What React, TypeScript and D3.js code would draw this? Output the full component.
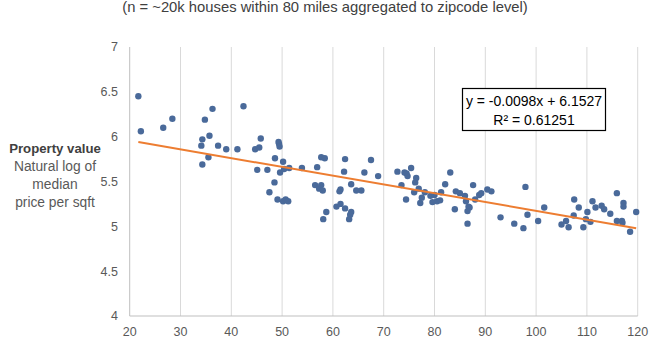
import React from "react";
import * as d3 from "d3";

// Distance (miles) vs natural log of median price per sqft
const distances = [
  21.7, 22.2, 26.6, 28.4, 34.8, 36.3, 34.3, 35.7, 34.1, 37.4, 39.0, 41.2, 35.5, 34.3, 42.4,
  45.8, 44.7, 45.5, 49.3, 49.4, 49.5, 48.6, 50.2, 45.1, 47.1, 49.6, 50.4, 51.4, 53.9, 48.5,
  47.5, 49.1, 50.2, 50.7, 51.2, 57.7, 58.4, 56.9, 56.5, 57.7, 57.3, 58.0, 58.7, 58.1, 62.4,
  62.2, 66.2, 63.6, 61.5, 61.3, 64.6, 65.6, 60.7, 61.5, 62.4, 63.6, 63.4, 63.2, 67.5, 68.9,
  72.7, 74.1, 74.5, 74.7, 75.4, 76.4, 76.2, 73.5, 76.9, 76.0, 78.1, 74.4, 77.5, 77.2, 79.2,
  80.0, 81.3, 79.6, 80.5, 81.1, 83.1, 82.1, 84.2, 85.0, 86.0, 87.6, 86.2, 86.7, 86.9, 86.5,
  84.0, 86.5, 88.0, 88.8, 89.2, 90.4, 91.2, 93.0, 97.9, 95.7, 97.5, 98.3, 100.4, 101.6, 105.0,
  105.9, 106.4, 107.5, 108.4, 107.4, 109.3, 110.1, 109.8, 110.7, 111.1, 111.7, 112.9, 113.4, 114.6, 115.9,
  117.2, 117.2, 115.9, 116.9, 117.0, 118.5, 119.7,
];
const logPrices = [
  6.45, 6.06, 6.10, 6.20, 6.19, 6.31, 5.97, 6.01, 5.90, 5.90, 5.86, 5.86, 5.77, 5.69, 6.34,
  5.98, 5.86, 5.88, 5.94, 5.92, 5.89, 5.76, 5.72, 5.63, 5.63, 5.60, 5.64, 5.65, 5.65, 5.49,
  5.38, 5.30, 5.28, 5.30, 5.28, 5.77, 5.76, 5.66, 5.46, 5.46, 5.42, 5.40, 5.16, 5.08, 5.75,
  5.61, 5.60, 5.47, 5.41, 5.39, 5.40, 5.40, 5.22, 5.25, 5.20, 5.16, 5.13, 5.08, 5.74, 5.56,
  5.61, 5.60, 5.59, 5.56, 5.65, 5.54, 5.49, 5.46, 5.42, 5.38, 5.38, 5.30, 5.32, 5.26, 5.34,
  5.35, 5.38, 5.27, 5.28, 5.29, 5.60, 5.47, 5.39, 5.37, 5.34, 5.46, 5.28, 5.22, 5.21, 5.17,
  5.19, 5.03, 5.30, 5.35, 5.37, 5.41, 5.39, 5.10, 5.44, 5.03, 4.98, 5.13, 5.06, 5.21, 5.02,
  5.06, 4.99, 5.30, 5.21, 5.12, 4.99, 5.16, 5.08, 5.05, 5.28, 5.21, 5.23, 5.19, 5.14, 5.37,
  5.26, 5.22, 5.06, 5.06, 5.04, 4.94, 5.16,
];

const xTicks = [20, 30, 40, 50, 60, 70, 80, 90, 100, 110, 120];
const yTicks = [4, 4.5, 5, 5.5, 6, 6.5, 7];
const trendSlope = -0.0098;
const trendIntercept = 6.1527;

const titleText = "(n = ~20k houses within 80 miles aggregated to zipcode level)";
const equationLines = ["y = -0.0098x + 6.1527", "R² = 0.61251"];
const yLabelBold = "Property value";
const yLabelLines = ["Natural log of", "median", "price per sqft"];

const W = 656;
const H = 339;
const FONT = "'Liberation Sans', Arial, sans-serif";

export default function App() {
  const x = d3.scaleLinear().domain([20, 120]).range([129.7, 637.7]);
  const y = d3.scaleLinear().domain([4, 7]).range([316, 47]);

  const points = distances.map((d, i) => ({ d, v: logPrices[i] }));
  const [xMin, xMax] = d3.extent(distances) as [number, number];
  const line = d3
    .line<number>()
    .x((d) => x(d))
    .y((d) => y(trendSlope * d + trendIntercept));

  return (
    <svg
      width={W}
      height={H}
      style={{ position: "absolute", left: 0, top: 0, background: "#fff" }}
      fontFamily={FONT}
    >
      <rect x={0} y={0} width={W} height={H} fill="#fff" />
      <text x={325} y={11.5} textAnchor="middle" fontSize={14.8} fill="#404040">
        {titleText}
      </text>

      {/* vertical gridlines */}
      {xTicks.slice(1).map((t) => (
        <line key={t} x1={x(t)} x2={x(t)} y1={y(7)} y2={y(4)} stroke="#d9d9d9" strokeWidth={1} />
      ))}
      {/* axes */}
      <line x1={x(20)} x2={x(20)} y1={y(7)} y2={y(4)} stroke="#bfbfbf" strokeWidth={1} />
      <line x1={x(20)} x2={x(120)} y1={y(4)} y2={y(4)} stroke="#bfbfbf" strokeWidth={1} />

      {yTicks.map((t) => (
        <text key={t} x={118} y={y(t)} dy="0.35em" textAnchor="end" fontSize={12.5} fill="#595959">
          {t}
        </text>
      ))}
      {xTicks.map((t) => (
        <text key={t} x={x(t)} y={336} textAnchor="middle" fontSize={12.5} fill="#595959">
          {t}
        </text>
      ))}

      <text x={55} y={153} textAnchor="middle" fontSize={13.2} fontWeight="bold" fill="#404040">
        {yLabelBold}
      </text>
      {yLabelLines.map((l, i) => (
        <text key={l} x={55} y={171 + i * 18} textAnchor="middle" fontSize={13.8} fill="#595959">
          {l}
        </text>
      ))}

      {points.map((p, i) => (
        <circle key={i} cx={x(p.d)} cy={y(p.v)} r={3.2} fill="#4a6a9a" />
      ))}

      <path d={line([xMin, xMax]) || ""} fill="none" stroke="#ED7D31" strokeWidth={2} />

      <rect x={462.5} y={88.5} width={143} height={42} fill="#fff" stroke="#000" strokeWidth={1.2} />
      {equationLines.map((l, i) => (
        <text key={l} x={534} y={105.5 + i * 19.5} textAnchor="middle" fontSize={14} fill="#000">
          {l}
        </text>
      ))}
    </svg>
  );
}
